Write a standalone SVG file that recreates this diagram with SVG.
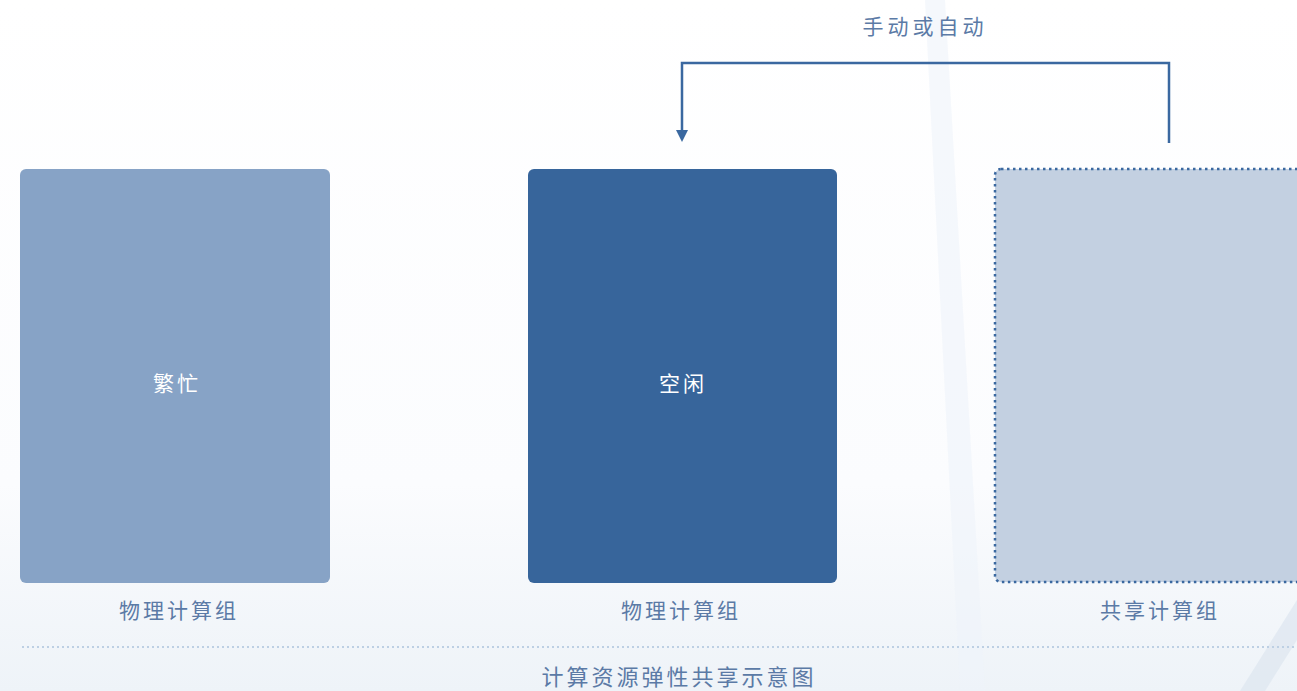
<svg xmlns="http://www.w3.org/2000/svg" width="1297" height="691" viewBox="0 0 1297 691">
<defs>
<linearGradient id="bg" x1="0" y1="0" x2="0" y2="1">
<stop offset="0" stop-color="#ffffff"/>
<stop offset="0.7" stop-color="#fbfcfe"/>
<stop offset="1" stop-color="#eef3f8"/>
</linearGradient>
<marker id="arr" viewBox="0 0 10 10" refX="0" refY="5" markerWidth="12" markerHeight="14" markerUnits="userSpaceOnUse" orient="auto">
<path d="M0,0 L10,5 L0,10 Z" fill="#3a68a0"/>
</marker>
<style>
.lbl{font-family:"Noto Sans CJK SC","Noto Sans",sans-serif;font-size:21px;fill:#5b7aa6;text-anchor:middle;letter-spacing:3px}
.inner{font-family:"Noto Sans CJK SC","Noto Sans",sans-serif;font-size:21px;fill:#ffffff;text-anchor:middle;letter-spacing:3px}
.conn{fill:none;stroke:#3a68a0;stroke-width:2.5}
</style>
</defs>
<rect width="1297" height="691" fill="url(#bg)"/>
<path d="M925,0 L945,0 L985,691 L960,691 Z" fill="#eef4fa" opacity="0.6"/>
<path d="M1240,691 L1297,600 L1297,640 L1265,691 Z" fill="#dde6f0" opacity="0.7"/>
<g id="busy">
<rect x="20" y="169" width="310" height="414" rx="6" fill="#87a3c6"/>
<text class="inner" x="177" y="391">繁忙</text>
</g>
<g id="idle">
<rect x="528" y="169" width="309" height="414" rx="6" fill="#37659b"/>
<text class="inner" x="683" y="391">空闲</text>
</g>
<g id="shared">
<rect x="995" y="169" width="320" height="413" rx="6" fill="#c3d0e1" stroke="#3a68a0" stroke-width="2.5" stroke-dasharray="2.5 3.5"/>
</g>
<g id="labels">
<text class="lbl" x="179" y="618">物理计算组</text>
<text class="lbl" x="681" y="618">物理计算组</text>
<text class="lbl" x="1160" y="618">共享计算组</text>
<text class="lbl" x="925" y="34" style="letter-spacing:4px">手动或自动</text>
</g>
<g id="connectors">
<path class="conn" d="M1169,143 L1169,63 L682,63 L682,130" marker-end="url(#arr)"/>
</g>
<line x1="22" y1="647" x2="1297" y2="647" stroke="#bdd0e4" stroke-width="2" stroke-dasharray="2 3"/>
<text class="lbl" x="679" y="685" style="font-size:22px">计算资源弹性共享示意图</text>
</svg>
